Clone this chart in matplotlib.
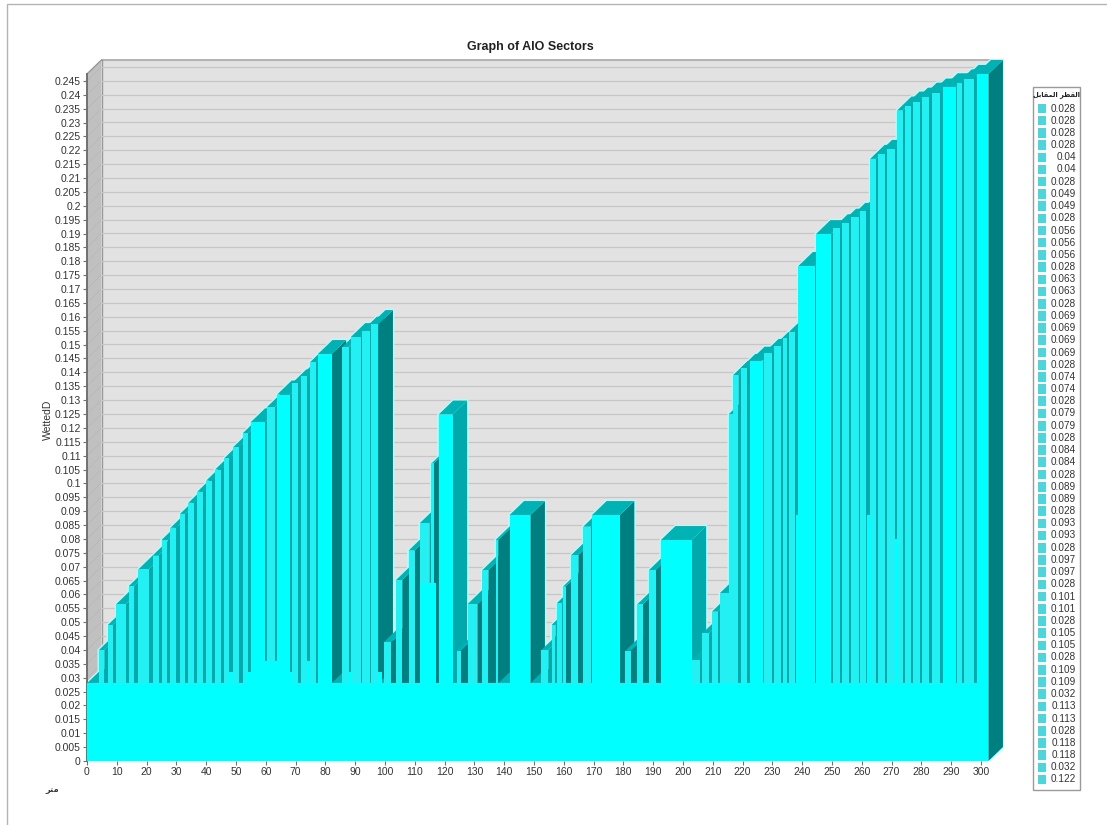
import matplotlib
matplotlib.use("Agg")
import matplotlib.pyplot as plt
from matplotlib.patches import Rectangle

plt.rcParams['font.family'] = ['Liberation Sans', 'DejaVu Sans']

# sectors: left end, right end, wetted diameter
bar_left = [0, 4, 7, 9.8, 14, 17.2, 22, 25, 28, 31.2, 34, 37, 40, 43, 46, 49, 52.2, 54.9, 60.4, 63.8, 68.7, 71.7, 74.8, 77.5,
            82.1, 85.6, 88.5, 92.4, 95.3, 97.8, 99.5, 103.7, 107.9, 111.7, 115.6, 118, 124, 127.7, 132.7, 137.1, 138, 141.8,
            148.8, 152.5, 155.9, 157.7, 159.7, 162.5, 166.5, 169.5, 180.7, 184.7, 188.6, 192.6, 202.9, 206.5, 209.7, 212.4,
            215.4, 216.8, 219.4, 222.5, 227.2, 230.5, 233.5, 235.7, 238.7, 244.6, 250.4, 253.2, 256.3, 259.4, 262.8, 265.3,
            268.4, 271.8, 274.5, 277.3, 280.3, 283.4, 287.3, 292, 294.3, 298.5]
bar_right = [4, 5.8, 8.6, 13, 15.8, 20.7, 24, 27, 30, 33, 36, 39, 42, 45, 47.8, 51, 54, 59.7, 63.1, 68.1, 70.8, 73.9, 77, 82.1,
             85.6, 87.9, 92.1, 94.9, 97.8, 99.5, 102, 105.8, 109.9, 114.9, 116.4, 122.7, 125.4, 131, 134.7, 138, 141.8, 148.8,
             152.5, 154.8, 157.2, 159.3, 160.6, 164.9, 169, 178.8, 182.4, 186.6, 190.8, 202.9, 205.7, 208.7, 211.7, 215.4,
             216.8, 218.6, 221.4, 226.9, 229.8, 232.8, 235, 237.6, 244.3, 249.7, 252.7, 255.6, 258.9, 261.4, 264.7, 267.8,
             271.1, 273.7, 276.4, 279.5, 282.5, 286.4, 291.5, 293.5, 297.5, 302.5]
bar_height = [0.028, 0.04, 0.049, 0.0565, 0.063, 0.069, 0.074, 0.0796, 0.084, 0.089, 0.093, 0.097, 0.101, 0.105, 0.109, 0.113,
              0.118, 0.122, 0.1275, 0.132, 0.136, 0.1387, 0.1436, 0.1466, 0.028, 0.1491, 0.1527, 0.155, 0.1574, 0.028, 0.0427,
              0.0652, 0.0758, 0.0857, 0.1072, 0.1248, 0.0397, 0.0565, 0.0688, 0.0796, 0.028, 0.0886, 0.028, 0.04, 0.049, 0.0569,
              0.0628, 0.0742, 0.0844, 0.0886, 0.0397, 0.0565, 0.0688, 0.0796, 0.0364, 0.046, 0.0538, 0.0605, 0.125, 0.139,
              0.1416, 0.1442, 0.147, 0.1495, 0.1523, 0.1547, 0.1783, 0.1898, 0.1919, 0.1939, 0.196, 0.198, 0.2169, 0.2187,
              0.2203, 0.2343, 0.2361, 0.2375, 0.2393, 0.2408, 0.2427, 0.2441, 0.2457, 0.2475]

# lower sectors laid over the bars, they have no visible sides
low_left = [0, 47.5, 53.5, 59.7, 67.7, 73.7, 87.8, 97.8, 111.7, 237.8, 261.8, 271.2]
low_right = [302.5, 49, 55, 64, 69, 75, 89, 99, 117.2, 239, 263, 272]
low_height = [0.028, 0.032, 0.032, 0.036, 0.032, 0.036, 0.032, 0.032, 0.064, 0.0885, 0.0885, 0.08]

legend_values = ['0.028', '0.028', '0.028', '0.028', '0.04', '0.04', '0.028', '0.049', '0.049', '0.028', '0.056', '0.056',
                 '0.056', '0.028', '0.063', '0.063', '0.028', '0.069', '0.069', '0.069', '0.069', '0.028', '0.074', '0.074',
                 '0.028', '0.079', '0.079', '0.028', '0.084', '0.084', '0.028', '0.089', '0.089', '0.028', '0.093', '0.093',
                 '0.028', '0.097', '0.097', '0.028', '0.101', '0.101', '0.028', '0.105', '0.105', '0.028', '0.109', '0.109',
                 '0.032', '0.113', '0.113', '0.028', '0.118', '0.118', '0.032', '0.122']

x_ticks = list(range(0, 301, 10))
y_tick_labels = ['0', '0.005', '0.01', '0.015', '0.02', '0.025', '0.03', '0.035', '0.04', '0.045', '0.05', '0.055', '0.06',
                 '0.065', '0.07', '0.075', '0.08', '0.085', '0.09', '0.095', '0.1', '0.105', '0.11', '0.115', '0.12', '0.125',
                 '0.13', '0.135', '0.14', '0.145', '0.15', '0.155', '0.16', '0.165', '0.17', '0.175', '0.18', '0.185', '0.19',
                 '0.195', '0.2', '0.205', '0.21', '0.215', '0.22', '0.225', '0.23', '0.235', '0.24', '0.245']

W, H = 1107, 825
x0, x1, y_bot, y_top = 87, 1004, 761, 59
px_x = 2.98
px_y = 13.88 / 0.005
dx = 14.5 / px_x
dy = 14 / px_y
x_max = (x1 - x0) / px_x
y_max = (y_bot - y_top) / px_y
y_end = 0.2475

fig = plt.figure(figsize=(W / 100, H / 100), dpi=100, facecolor='white')

# outer frame
bg = fig.add_axes([0, 0, 1, 1])
bg.set_xlim(0, W)
bg.set_ylim(H, 0)
bg.axis('off')
bg.plot([7, 7, W], [H, 4, 4], color='#b4b4b4', lw=1)

ax = fig.add_axes([x0 / W, 1 - y_bot / H, (x1 - x0) / W, (y_bot - y_top) / H])
ax.set_xlim(0, x_max)
ax.set_ylim(0, y_max)
ax.patch.set_visible(False)
for s in ['top', 'right', 'bottom']:
    ax.spines[s].set_visible(False)
ax.spines['left'].set_bounds(0, y_end)
ax.spines['left'].set_color('#707070')
ax.spines['left'].set_linewidth(1.4)

# back wall and left wall
ax.fill([dx, x_max, x_max, dx], [dy, dy, y_end + dy, y_end + dy], color='#e2e2e2', lw=0, zorder=0)
ax.fill([0, dx, dx, 0], [0, dy, y_end + dy, y_end], color='#c0c0c0', lw=0, zorder=0)
ax.plot([dx, x_max], [y_end + dy, y_end + dy], color='#a8a8a8', lw=1.2, zorder=1)
ax.plot([dx, dx], [dy, y_end + dy], color='#999999', lw=1, zorder=1)
ax.plot([0, dx], [y_end, y_end + dy], color='#999999', lw=1, zorder=1)

for i in range(len(y_tick_labels)):
    v = i * 0.005
    ax.plot([dx, x_max], [v + dy, v + dy], color='#c6c6c6', lw=0.9, zorder=1)
    ax.plot([0, dx], [v, v + dy], color='#a4a4a4', lw=0.4, ls=':', zorder=1)
ax.plot([dx, x_max], [0.25 + dy, 0.25 + dy], color='#c6c6c6', lw=0.9, zorder=1)

# bars, left to right so each front hides the side of the one before
for i in range(len(bar_left)):
    l, r, h = bar_left[i], bar_right[i], bar_height[i]
    # the gap counts up to the next real sector, the 0.028 ones stay low
    next_left = r + dx
    for j in range(i + 1, len(bar_left)):
        if bar_height[j] > 0.03:
            next_left = bar_left[j]
            break
    side = '#007f80' if next_left - r > 1.55 else '#00aaac'
    front = '#00ffff' if r - l > 3.9 else '#22f0f2'
    xs = [l, r, r + dx, r + dx, l + dx, l]
    ys = [0, 0, dy, h + dy, h + dy, h]
    ax.fill(xs, ys, facecolor='#b0ffff', edgecolor='#b0ffff', lw=2, zorder=2)
    ax.fill([r, r + dx, r + dx, r], [0, dy, h + dy, h], color=side, lw=0, zorder=3)
    ax.fill([l, l + dx, r + dx, r], [h, h + dy, h + dy, h], color='#00b2b4', lw=0, zorder=3)
    ax.fill([l, r, r, l], [0, 0, h, h], color=front, lw=0, zorder=3)

ax.bar(low_left, low_height, width=[b - a for a, b in zip(low_left, low_right)], align='edge', color='#00ffff', lw=0, zorder=4)

ax.set_xticks(x_ticks)
ax.set_yticks([i * 0.005 for i in range(len(y_tick_labels))])
ax.set_yticklabels(y_tick_labels)
ax.tick_params(axis='both', labelsize=7.5, length=3, width=0.8, color='#707070', labelcolor='#333333', pad=1.5)

fig.text(530 / W, 1 - 47 / H, 'Graph of AIO Sectors', ha='center', va='center', fontsize=9, fontweight='bold', color='#222222')
fig.text(48 / W, 1 - 420 / H, 'WettedD', rotation=90, ha='center', va='center', fontsize=7.5, color='#333333')
# arabic written in presentation forms, matplotlib does not shape it
fig.text(52 / W, 1 - 789 / H, '\ufeae\ufe98\ufee3', ha='center', va='center', fontsize=6, fontweight='bold', color='#333333',
         family='DejaVu Sans')

# legend
bg.add_patch(Rectangle((1033, 87), 47, 703, facecolor='white', edgecolor='#9a9a9a', lw=1))
bg.text(1056.5, 95, '\ufede\ufe91\ufe8e\ufed8\ufee4\ufedf\ufe8d \ufeae\ufec4\ufed8\ufedf\ufe8d', ha='center', va='center',
        fontsize=4.8, fontweight='bold', color='#222222', family='DejaVu Sans')
for i, val in enumerate(legend_values):
    y = 108.5 + i * 12.2
    bg.add_patch(Rectangle((1038, y - 4.8), 7.5, 9.6, facecolor='#4fd4da', lw=0))
    bg.text(1076, y, val, ha='right', va='center', fontsize=7.2, color='#333333')

fig.savefig('out.png', dpi=100, facecolor='white')
